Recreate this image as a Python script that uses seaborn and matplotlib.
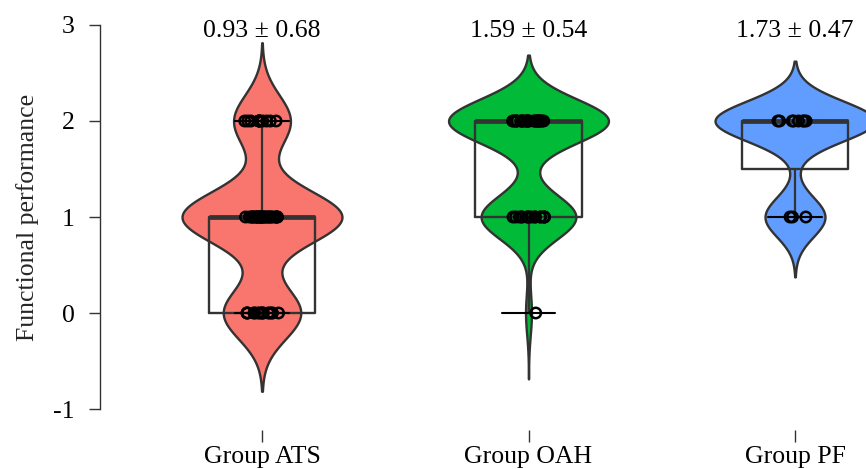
import numpy as np
import pandas as pd
import matplotlib
matplotlib.use("Agg")
import matplotlib.pyplot as plt
import seaborn as sns

# Scores per group, stored as counts at each score level
groups = ["Group ATS", "Group OAH", "Group PF"]
score_levels = [0, 1, 2]
ats_counts = [15, 31, 11]
oah_counts = [1, 16, 27]
pf_counts = [0, 3, 8]
group_colors = ["#F8766D", "#00BA38", "#619CFF"]
y_ticks = [-1, 0, 1, 2, 3]
y_label = "Functional performance"

all_counts = [ats_counts, oah_counts, pf_counts]
df = pd.DataFrame({
    "group": np.concatenate([np.repeat(g, sum(c)) for g, c in zip(groups, all_counts)]),
    "score": np.concatenate([np.repeat(score_levels, c) for c in all_counts]).astype(float),
})


def nrd0(kde):
    """Silverman's rule of thumb (R's bw.nrd0), returned as a gaussian_kde factor."""
    x = np.asarray(kde.dataset).ravel()
    sd = x.std(ddof=1)
    q1, q3 = np.percentile(x, [25, 75])
    lo = min(sd, (q3 - q1) / 1.34)
    if lo == 0:
        lo = sd if sd > 0 else 1.0
    return 0.9 * lo * len(x) ** -0.2 / sd


sns.set_style("white")
plt.rcParams["font.family"] = ["Liberation Serif", "DejaVu Serif"]
plt.rcParams["axes.unicode_minus"] = False

fig = plt.figure(figsize=(8.66, 4.69), dpi=100)
ax = fig.add_axes([100 / 866, 39 / 469, 766 / 866, 430 / 469])

edge = "#333333"

sns.violinplot(
    data=df, x="group", y="score", hue="group", order=groups, hue_order=groups,
    palette=group_colors, saturation=1, legend=False, density_norm="width",
    width=0.6, cut=3, bw_method=nrd0, gridsize=512, inner=None,
    linewidth=1.7, linecolor=edge, ax=ax,
)

sns.boxplot(
    data=df, x="group", y="score", order=groups, width=0.4, fill=False,
    color=edge, linewidth=1.7, showfliers=False, whis=1.5,
    medianprops={"linewidth": 3.4, "color": edge},
    whiskerprops={"color": edge, "linewidth": 1.6},
    capprops={"color": "black", "linewidth": 1.5},
    ax=ax,
)

np.random.seed(7)
n_before = len(ax.collections)
sns.stripplot(
    data=df, x="group", y="score", order=groups, jitter=0.065, size=7.5,
    color="black", edgecolor="black", linewidth=1.8, zorder=5, ax=ax,
)
for coll in ax.collections[n_before:]:
    coll.set_facecolor("none")
    coll.set_edgecolor("black")

# Mean ± SD above each group
for i, g in enumerate(groups):
    vals = df.loc[df["group"] == g, "score"]
    ax.text(i, 2.875, f"{vals.mean():.2f} ± {vals.std(ddof=1):.2f}",
            ha="center", va="baseline", fontsize=18.5, color="black")

ax.set_xlim(-162 / 266.5, 604 / 266.5)
ax.set_ylim(-1 - 21 / 96, 3 + 25 / 96)
ax.set_yticks(y_ticks)
ax.set_yticklabels([str(t) for t in y_ticks])

for side in ["top", "right", "bottom"]:
    ax.spines[side].set_visible(False)
ax.spines["left"].set_bounds(-1, 3)
ax.spines["left"].set_color(edge)
ax.spines["left"].set_linewidth(1.0)

ax.tick_params(axis="y", length=8, width=1.0, pad=10, color=edge, labelsize=18.5, labelcolor="black", left=True)
ax.tick_params(axis="x", length=8.6, width=1.0, pad=3, color=edge, labelsize=18.5, labelcolor="black", bottom=True)

ax.set_xlabel("")
ax.set_ylabel(y_label, fontsize=18.5, va="center")
ax.yaxis.set_label_coords(-0.095, (1 + 1 + 21 / 96) / (4 + 46 / 96))

fig.savefig("out.png", dpi=100)
